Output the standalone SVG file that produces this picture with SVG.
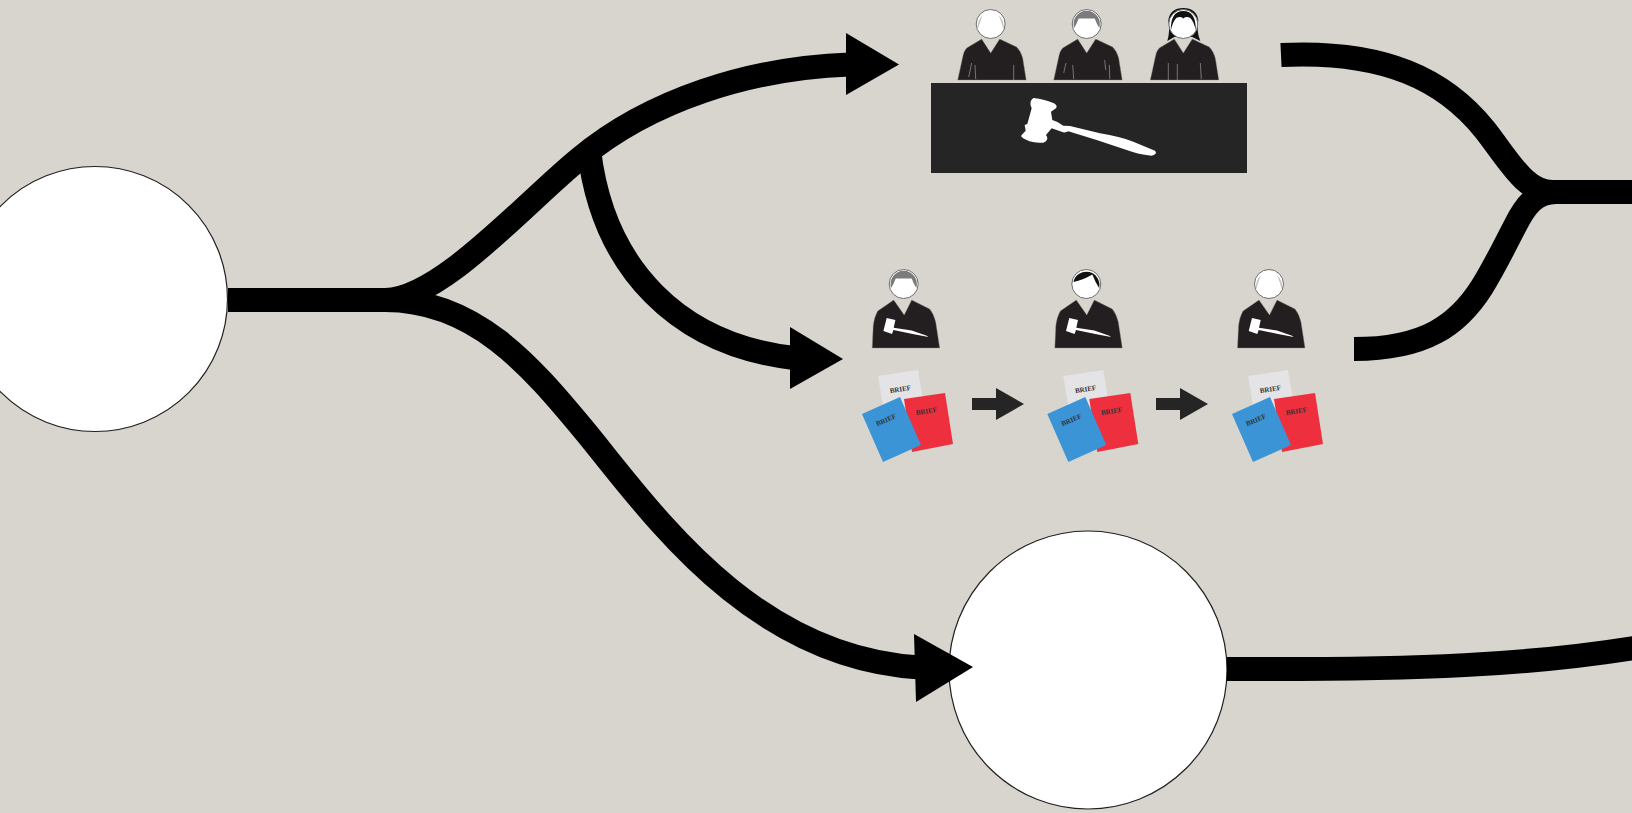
<svg xmlns="http://www.w3.org/2000/svg" width="1632" height="813" viewBox="0 0 1632 813">
<style>
.bg{fill:#d7d5ce}
.hub{fill:#fff;stroke:#231f20;stroke-width:1.2}
.wire{fill:none;stroke:#000;stroke-width:24}
.tip{fill:#000}
.small{fill:#252525}
.body{fill:#231f20;stroke:#8a8884;stroke-width:.4}
.head{fill:#fff;stroke:#6d6d6d;stroke-width:1}
.streak{fill:none;stroke:#9a9894;stroke-width:.7}
.wisp{fill:#c4c2bd}
.gray{fill:#7b7b7b}
.blk{fill:#111}
.g{fill:#fff}
.paper{fill:#e4e3e6}
.red{fill:#ee2f3e}
.blue{fill:#3a94d6}
.b{font-family:"Liberation Serif",serif;font-weight:bold;font-size:7px;text-anchor:middle;fill:#333}
</style>
<defs>
<path id="torso" class="body" d="M-33,56 L-28,33 Q-27,27 -24,24 L-9,15 L0,29 L9,15 L26,23 Q30,27 32,34 L35.500,56 Z"/>
<path id="torso-tall" class="body" d="M-31.500,64 L-30.500,42 Q-29.500,33 -26,27 L-10,16 L0.500,31 L8,16 L26,25 Q30,30 32,38 L36,64 Z"/>
<path id="gav" class="g" d="M-17,34 L-8.300,36 L-10,43.700 L8,46.500 L23,51.700 L24.700,53 L9,50 L-10.300,46 L-11.700,50 L-20.300,47 Z"/>
<path id="hair-cap" class="gray" d="M-12.600,4 A13.200,13.200 0 1 1 12.600,4 Q10,0 8,-5.500 H-8 Q-10,0 -12.600,4 Z"/>
<path id="wisps" class="wisp" d="M-13,6 Q-14,-3 -8,-9 Q-11,-2 -13,6 Z M13,6 Q14,-3 8,-9 Q11,-2 13,6 Z"/>
</defs>
<rect class="bg" width="1632" height="813"/>
<g id="node-circle-left"><circle class="hub" cx="95" cy="299" r="132.500"/></g>
<g id="node-circle-bottom"><circle class="hub" cx="1088" cy="670" r="139"/></g>
<g id="connectors">
<path class="wire" d="M228,300 H385 C440,300 525,203 579,159 C650,100 750,68 850,64.500"/>
<path class="wire" d="M589,150 C603,270 680,345 794,358"/>
<path class="wire" d="M385,300 C475,300 530,365 584,430 C650,510 750,658 920,667.500"/>
<path class="wire" d="M1281,55 C1385,50 1445,80 1485,130 C1510,162 1525,192 1553,192 H1640"/>
<path class="wire" d="M1354,349 C1425,349 1458,325 1482,287 C1495,266 1505,245 1515,226 C1525,206 1535,192 1556,192"/>
<path class="wire" d="M1227,669 C1420,670 1530,665 1640,647"/>
<polygon class="tip" points="846,33 846,95 899,64.500"/>
<polygon class="tip" points="790,327 790,389 843,359"/>
<polygon class="tip" points="914,634 916,702 973,667"/>
<polygon class="small" points="972,398 996,398 996,388 1024,404 996,420 996,410 972,410"/>
<polygon class="small" points="1156,398 1180,398 1180,388 1208,404 1180,420 1180,410 1156,410"/>
</g>
<g id="node-bench-judge-1" transform="translate(990.700,24)">
<use href="#torso"/>
<path class="streak" d="M-19,39 L-22,53 M-15.700,41 L-15,55 M23,41 L23,56"/>
<circle class="head" r="14.500"/>
<use href="#wisps"/>
</g>
<g id="node-bench-judge-2" transform="translate(1086.700,24)">
<use href="#torso"/>
<path class="streak" d="M-20.700,39 L-23,49 M-14,41 L-13,55 M18,36 L19,46 M22.700,41 L23,55"/>
<circle class="head" r="14.500"/>
<use href="#hair-cap"/>
</g>
<g id="node-bench-judge-3" transform="translate(1183.300,24)">
<use href="#torso"/>
<path class="streak" d="M-15,39 L-15,56 M-6,40 L-6,56 M17,39 L18,55"/>
<path class="blk" d="M-16,17 Q-13,8 -15,-4 Q-13,-16 0,-16 Q13,-16 15,-4 Q13,8 17,17 L9,13 L-9,13 Z"/>
<circle class="head" r="14.500"/>
<path class="blk" d="M-12.500,7 Q-13,-13 0,-13 Q13,-13 12.500,7 Q11,-2 7,-6 Q3,-8 0,-5.500 Q-3,-8 -7,-6 Q-11,-2 -12.500,7 Z"/>
</g>
<g id="node-bench">
<rect x="931" y="83" width="316" height="90" fill="#252525"/>
<path class="g" transform="translate(920,0) scale(.3333)" d="M340,294 Q375,298 402,310 Q414,318 408,325 L393,335 L397,360 Q415,365 430,377 L450,378 L540,400 Q600,410 640,425 L705,452 Q714,462 695,467 Q650,462 620,450 L530,420 L445,394 Q435,400 425,395 L395,385 L378,405 Q390,420 370,428 Q340,430 320,420 Q298,410 305,405 L317,392 L314,375 L322,372 L335,325 Q325,305 340,294 Z"/>
</g>
<g id="node-judge-a" transform="translate(903.700,284)">
<use href="#torso-tall"/>
<use href="#gav"/>
<circle class="head" r="14.500"/>
<use href="#hair-cap"/>
</g>
<g id="node-judge-b" transform="translate(1086.300,284)">
<use href="#torso-tall"/>
<use href="#gav"/>
<circle class="head" r="14.500"/>
<path class="blk" d="M-13,-2 A13.200,13.200 0 0 1 12.800,4 Q9,-2 6,-9.500 Q-3,-4 -13,-2 Z"/>
</g>
<g id="node-judge-c" transform="translate(1269,284)">
<use href="#torso-tall"/>
<use href="#gav"/>
<circle class="head" r="14.500"/>
<use href="#wisps"/>
</g>
<g id="node-briefs-a">
<polygon class="paper" points="878,376 918,370 928,430 888,436"/>
<text class="b" transform="translate(900.700,391.500) rotate(-10)">BRIEF</text>
<polygon class="red" points="904,399 945,393 953,444 912,452"/>
<text class="b" transform="translate(926.700,413.500) rotate(-10)">BRIEF</text>
<polygon class="blue" points="862,414 900,397 921,445 883,462"/>
<text class="b" transform="translate(887,422) rotate(-24)">BRIEF</text>
</g>
<g id="node-briefs-b">
<polygon class="paper" points="1063.300,376 1103.300,370 1113.300,430 1073.300,436"/>
<text class="b" transform="translate(1086,391.500) rotate(-10)">BRIEF</text>
<polygon class="red" points="1089.300,399 1130.300,393 1138.300,444 1097.300,452"/>
<text class="b" transform="translate(1112,413.500) rotate(-10)">BRIEF</text>
<polygon class="blue" points="1047.300,414 1085.300,397 1106.300,445 1068.300,462"/>
<text class="b" transform="translate(1072.300,422) rotate(-24)">BRIEF</text>
</g>
<g id="node-briefs-c">
<polygon class="paper" points="1248,376 1288,370 1298,430 1258,436"/>
<text class="b" transform="translate(1270.700,391.500) rotate(-10)">BRIEF</text>
<polygon class="red" points="1274,399 1315,393 1323,444 1282,452"/>
<text class="b" transform="translate(1296.700,413.500) rotate(-10)">BRIEF</text>
<polygon class="blue" points="1232,414 1270,397 1291,445 1253,462"/>
<text class="b" transform="translate(1257,422) rotate(-24)">BRIEF</text>
</g>
</svg>
